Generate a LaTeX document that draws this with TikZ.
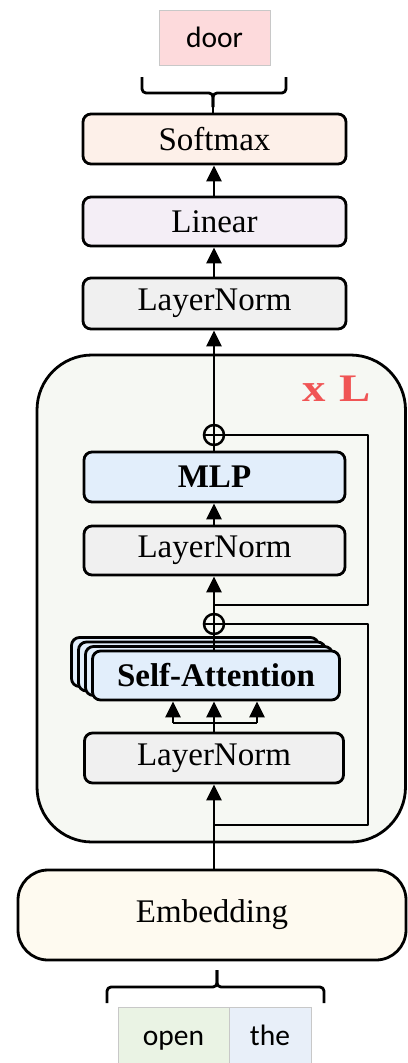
\documentclass[tikz,border=0pt]{standalone}
\usepackage{fontspec}
\setmainfont{Liberation Serif}
\newfontfamily\tokfont{Carlito}
\usetikzlibrary{arrows.meta}

\definecolor{doorfill}{HTML}{FDDADC}
\definecolor{softfill}{HTML}{FDF0E9}
\definecolor{linfill}{HTML}{F4EEF6}
\definecolor{lnfill}{HTML}{F0F0F0}
\definecolor{blockfill}{HTML}{F6F8F3}
\definecolor{attfill}{HTML}{E2EEFB}
\definecolor{embfill}{HTML}{FEFAF0}
\definecolor{openfill}{HTML}{EAF3E4}
\definecolor{thefill}{HTML}{E8EFF9}
\definecolor{tokborder}{HTML}{C8C8C8}
\definecolor{repred}{HTML}{F05555}

\tikzset{
  wire/.style={line width=2.8pt, line join=round},
  arr/.style={wire, -{Triangle[width=15pt,length=16pt]}},
  layer/.style={draw, line width=2.8pt, rounded corners=8pt, inner sep=0pt,
    minimum height=50pt, font=\fontsize{33}{36}\selectfont},
  token/.style={draw=tokborder, line width=0.8pt, inner sep=0pt, text height=21pt,
    font=\tokfont\fontsize{29.5}{32}\selectfont},
  addop/.style={circle, draw, line width=2.5pt, minimum size=20pt, inner sep=0pt},
}

\begin{document}
\begin{tikzpicture}[x=1pt, y=-1pt]
\useasboundingbox (0,0) rectangle (407,1063);

% output token
\node[token, fill=doorfill, minimum width=111pt, minimum height=55pt, text depth=2pt] (door) at (214.5,37.5) {door};

% top brace
\coordinate (btop) at (213,107);
\draw[wire, rounded corners=4pt] (142,77) -- (142,93) -- (213,93) -- (btop);
\draw[wire, rounded corners=4pt] (286,77) -- (286,93) -- (213,93) -- (btop);

% head
\node[layer, fill=softfill, minimum width=263pt] (soft) at (214.5,139) {Softmax};
\node[layer, fill=linfill, minimum width=263pt, minimum height=49pt] (lin) at (214.5,221.5) {Linear};
\node[layer, fill=lnfill, minimum width=263pt, minimum height=51pt] (lnt) at (214.5,303.5) {LayerNorm};

% repeated block
\draw[line width=2.8pt, fill=blockfill, rounded corners=55pt] (37,355) rectangle (405.5,842);
\node[text=repred, font=\bfseries\fontsize{39}{44}\selectfont, anchor=base, inner sep=0pt] (rep) at (336.5,401) {\scalebox{1.2}[1]{x\hspace{0.28em}L}};

\node[addop] (p1) at (214,435) {};
\draw[line width=2pt] (p1.north) -- (p1.south) (p1.west) -- (p1.east);
\node[layer, fill=attfill, minimum width=261pt, font=\bfseries\fontsize{33}{36}\selectfont] (mlp) at (214.5,477) {MLP};
\node[layer, fill=lnfill, minimum width=261pt, minimum height=49pt] (lnm) at (214.5,550.5) {LayerNorm};

\node[addop] (p2) at (214,624) {};
\draw[line width=2pt] (p2.north) -- (p2.south) (p2.west) -- (p2.east);

% stacked attention heads
\foreach \k in {3,2,1} {
  \node[layer, fill=attfill, minimum width=247pt, minimum height=49pt] (sa\k) at (216-7*\k,675.5-4.5*\k) {};
}
\node[layer, fill=attfill, minimum width=247pt, minimum height=49pt, font=\bfseries\fontsize{33}{36}\selectfont] (sa) at (216,675.5) {Self-Attention};

\node[layer, fill=lnfill, minimum width=259pt] (lnl) at (214,758) {LayerNorm};

% embedding
\node[draw, line width=2.8pt, rounded corners=30pt, fill=embfill, minimum width=388pt, minimum height=90pt,
  inner sep=0pt, font=\fontsize{33}{36}\selectfont] (emb) at (212,915) {Embedding};

% bottom brace
\coordinate (bbot) at (217,970);
\draw[wire, rounded corners=4pt] (107,1003) -- (107,987) -- (217,987) -- (bbot);
\draw[wire, rounded corners=4pt] (324,1003) -- (324,987) -- (217,987) -- (bbot);

% input tokens
\node[token, fill=openfill, minimum width=111pt, minimum height=60pt, text depth=5pt] (open) at (173.5,1037) {open};
\node[token, fill=thefill, minimum width=82pt, minimum height=60pt, text depth=5pt] (the) at (270,1037) {the};

% main path
\coordinate (split1) at (214,825);
\coordinate (turn1) at (368,624);
\coordinate (split2) at (214,605);
\coordinate (turn2) at (368,435);
\coordinate (fork) at (214,723);
\coordinate (forkl) at (173,723);
\coordinate (forkr) at (257,723);

\draw[arr] (emb.north -| lnl.south) -- (lnl.south);
\draw[wire] (split1) -| (turn1) -- (p2.east);
\draw[wire] (lnl.north) -- (fork);
\draw[wire] (forkl) -- (forkr);
\draw[arr] (forkl) -- (forkl |- sa.south);
\draw[arr] (fork) -- (fork |- sa.south);
\draw[arr] (forkr) -- (forkr |- sa.south);
\draw[wire] (p2.south |- sa.north) -- (p2.south);
\draw[arr] (p2.north) -- (p2.north |- lnm.south);
\draw[arr] (lnm.north -| p2.north) -- (p2.north |- mlp.south);
\draw[wire] (split2) -| (turn2) -- (p1.east);
\draw[wire] (p1.south |- mlp.north) -- (p1.south);
\draw[arr] (p1.north) -- (p1.north |- lnt.south);
\draw[arr] (lnt.north -| p1.north) -- (p1.north |- lin.south);
\draw[arr] (lin.north -| p1.north) -- (p1.north |- soft.south);
\draw[wire] (soft.north -| btop) -- (btop);
\end{tikzpicture}
\end{document}
